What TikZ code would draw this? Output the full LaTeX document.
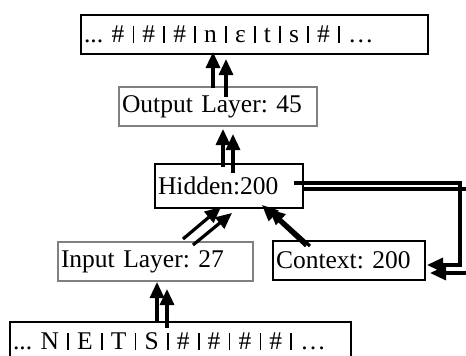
\documentclass[tikz,border=0pt]{standalone}
\usepackage{fontspec}
\setmainfont{Liberation Serif}
\usetikzlibrary{arrows.meta,calc}
% short separator bar between symbols
\newcommand\vbar{\hspace{0.32em}\rule{1.8pt}{0.64em}\hspace{0.32em}}
\frenchspacing
\begin{document}
\begin{tikzpicture}[x=1pt,y=-1pt,
  lay/.style={draw, line width=2pt, anchor=north west, inner xsep=3pt,
    inner ysep=0pt, align=left, font=\fontsize{25.5}{29}\selectfont},
  grey/.style={draw=black!50},
  arr/.style={line width=3.2pt, -{Triangle[length=16pt,width=14pt]}}]
\useasboundingbox (0,0) rectangle (466,356);
\clip (0,0) rectangle (466,356);

% layers
\node[lay, text width=341pt, minimum height=39pt] (T) at (80,14)
  {...~\#\vbar\#\vbar\#\vbar n\vbar ε\vbar t\vbar s\vbar\#\vbar…};
\node[lay, grey, text width=192pt, minimum height=39pt] (O) at (118,86)
  {Output Layer: 45};
\node[lay, text width=142pt, minimum height=44pt] (H) at (154,163)
  {Hidden:200};
\node[lay, grey, text width=189pt, minimum height=39pt] (I) at (57,241)
  {Input Layer: 27};
\node[lay, text width=146pt, minimum height=39pt] (C) at (272,240)
  {Context: 200};
\node[lay, text width=335pt, minimum height=39pt] (B) at (9,321)
  {...~N\vbar E\vbar T\vbar S\vbar\#\vbar\#\vbar\#\vbar\#\vbar…};

% forward connections (drawn as paired arrows)
\draw[arr] ($(O.north west)+(95,2)$) -- ($(T.south west)+(133,-3)$);
\draw[arr] ($(O.north west)+(108,11)$) -- ($(T.south west)+(146,4)$);
\draw[arr] ($(H.north west)+(69,4)$) -- ($(O.south west)+(105,2)$);
\draw[arr] ($(H.north west)+(79,10)$) -- ($(O.south west)+(115,7)$);
\draw[arr] ($(B.north west)+(148,1)$) -- ($(I.south west)+(100,0)$);
\draw[arr] ($(B.north west)+(158,7)$) -- ($(I.south west)+(110,7)$);
\draw[arr] ($(I.north west)+(126,-2)$) -- ($(H.south west)+(67,-2)$);
\draw[arr] ($(I.north west)+(136,4)$) -- ($(H.south west)+(78,4)$);
\draw[arr] ($(C.north west)+(34,6)$) -- ($(H.south west)+(108,-4)$);
\draw[arr] ($(C.north west)+(38,6)$) -- ($(H.south west)+(115,0)$);

% recurrent copy from hidden to context
\draw[arr] ($(H.north east)+(-10,20)$) -| ($(C.north east)+(34,25)$)
  -- ($(C.north east)+(1,25)$);
\draw[arr] ($(H.north east)+(0,26)$) -| ($(C.north east)+(43,33)$)
  -- ($(C.north east)+(4,33)$);
\end{tikzpicture}
\end{document}
